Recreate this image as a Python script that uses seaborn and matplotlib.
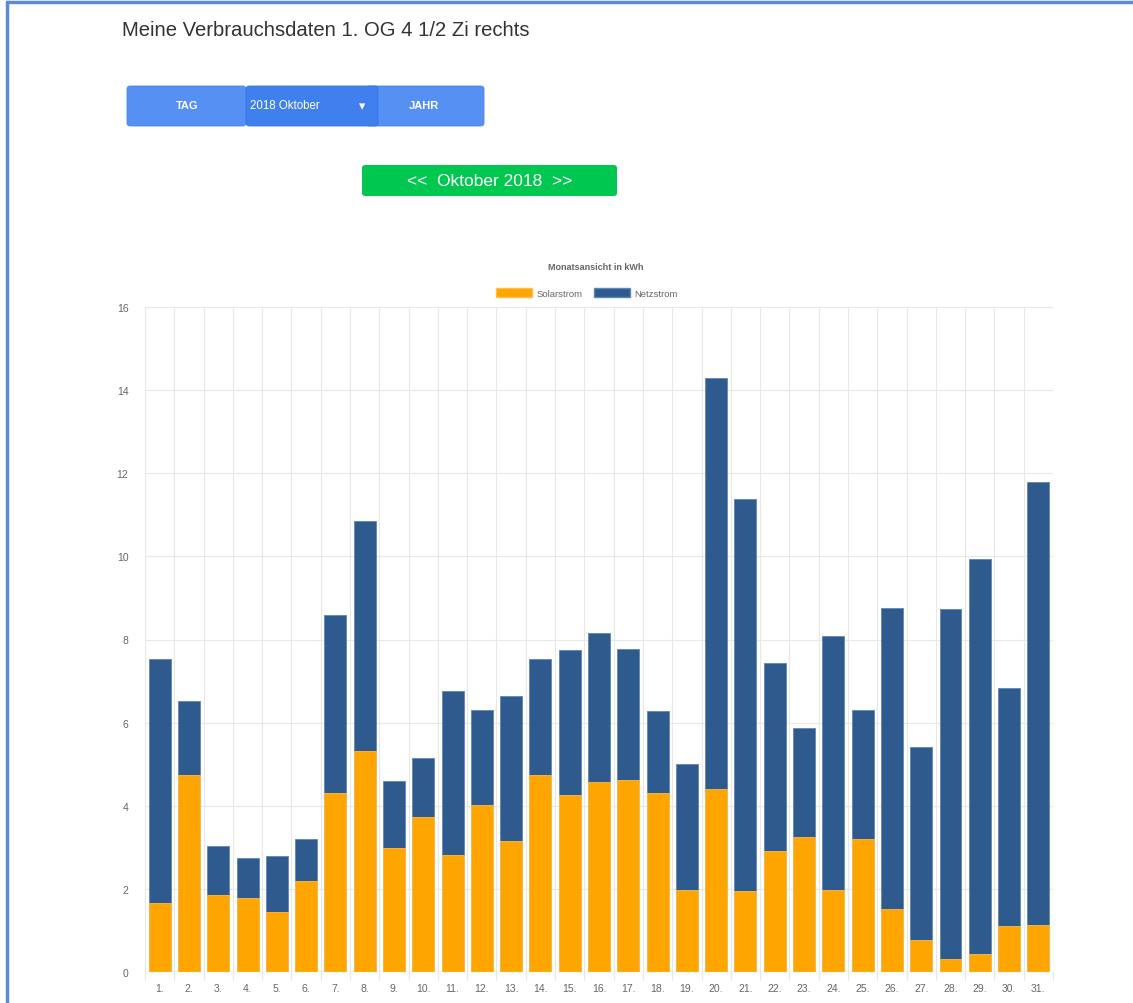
import matplotlib
matplotlib.use("Agg")
import matplotlib.pyplot as plt
from matplotlib.patches import FancyBboxPatch, Patch
from matplotlib.lines import Line2D
import seaborn as sns
import pandas as pd

# ==================== Daten ====================
days = [f"{d}." for d in range(1, 32)]
solar = [1.65, 4.75, 1.85, 1.78, 1.45, 2.18, 4.30, 5.32, 2.98, 3.73,
         2.81, 4.02, 3.15, 4.74, 4.26, 4.57, 4.63, 4.31, 1.97, 4.41,
         1.95, 2.91, 3.25, 1.97, 3.20, 1.52, 0.77, 0.31, 0.43, 1.11, 1.13]
total = [7.54, 6.53, 3.03, 2.75, 2.79, 3.20, 8.59, 10.85, 4.60, 5.15,
         6.76, 6.30, 6.64, 7.54, 7.75, 8.16, 7.77, 6.28, 5.00, 14.29,
         11.38, 7.43, 5.87, 8.08, 6.31, 8.76, 5.41, 8.73, 9.94, 6.83, 11.79]
netz = [t - s for t, s in zip(total, solar)]
y_ticks = list(range(0, 17, 2))

SOLAR_COLOR = "#FFA500"
NETZ_COLOR = "#2E5A8E"
GRID_COLOR = "#e8e8e8"
TEXT_GREY = "#666666"

df = pd.DataFrame({"day": days, "solar": solar, "netz": netz, "total": total})

sns.set_style("white")
plt.rcParams["font.family"] = ["Liberation Sans", "DejaVu Sans"]

fig = plt.figure(figsize=(11.33, 10.04), dpi=100)
W, H = 1133, 1004


def fx(px):
    return px / W


def fy(py):
    return 1 - py / H


# ==================== Seitenrahmen / Kopf ====================
fig.add_artist(Line2D([fx(7), 1], [fy(3), fy(3)], color="#5b8bd6", lw=2.5))
fig.add_artist(Line2D([fx(7), fx(7)], [fy(3), 0], color="#5b8bd6", lw=2.5))

fig.text(fx(122), fy(30), "Meine Verbrauchsdaten 1. OG 4 1/2 Zi rechts",
         fontsize=14.6, color="#333333", va="center", ha="left")


def button(x0, x1, y0, y1, color, z=1, edge="none"):
    fig.add_artist(FancyBboxPatch((fx(x0), fy(y1)), fx(x1) - fx(x0), fy(y0) - fy(y1),
                                  boxstyle="round,pad=0,rounding_size=0.003",
                                  facecolor=color, edgecolor=edge, lw=0.6, zorder=z))


button(127, 246, 87, 127, "#5590f2", edge="#4a86ea")
button(366, 484, 87, 127, "#5590f2", edge="#4a86ea")
button(246, 378, 87, 127, "#3f80ee", z=2, edge="#3575e0")
fig.text(fx(187), fy(106), "TAG", color="white", fontsize=8, fontweight="bold",
         ha="center", va="center")
fig.text(fx(250), fy(106), "2018 Oktober", color="white", fontsize=8.3,
         ha="left", va="center", zorder=3)
fig.text(fx(362), fy(107), "\u25BE", color="white", fontsize=9,
         ha="center", va="center", zorder=3)
fig.text(fx(424), fy(106), "JAHR", color="white", fontsize=8, fontweight="bold",
         ha="center", va="center", zorder=3)

button(362, 617, 166, 197, "#00c74f")
fig.text(fx(490), fy(181), "<<  Oktober 2018  >>", color="white", fontsize=12.5,
         ha="center", va="center", zorder=3)

# ==================== Diagramm ====================
ax = fig.add_axes([fx(145), fy(973), fx(1053) - fx(145), fy(308) - fy(973)])

sns.barplot(data=df, x="day", y="total", color=NETZ_COLOR, width=0.75,
            saturation=1, edgecolor="#5f86b5", linewidth=0.6, ax=ax, zorder=3)
sns.barplot(data=df, x="day", y="solar", color=SOLAR_COLOR, width=0.75,
            saturation=1, edgecolor="#ffbe4d", linewidth=0.6, ax=ax, zorder=4)

ax.set_xlim(-0.5, len(days) - 0.5)
ax.set_ylim(0, 16)
ax.set_yticks(y_ticks)
ax.set_xlabel("")
ax.set_ylabel("")

for i in range(len(days) + 1):
    ax.axvline(i - 0.5, color=GRID_COLOR, lw=0.8, zorder=0)
for v in y_ticks:
    ax.axhline(v, color=GRID_COLOR, lw=0.8, zorder=0)
ax.axhline(0, color="#d0d0d0", lw=0.9, zorder=5)

ax.tick_params(axis="x", length=0, labelsize=7.5, labelcolor=TEXT_GREY, pad=8)
ax.tick_params(axis="y", length=8, color=GRID_COLOR, labelsize=7.5,
               labelcolor=TEXT_GREY, pad=4)
# Tickstriche unter der x-Achse an den Kategoriegrenzen
for i in range(len(days) + 1):
    ax.plot([i - 0.5, i - 0.5], [0, -0.2], color=GRID_COLOR, lw=0.8,
            clip_on=False, zorder=0)

for s in ax.spines.values():
    s.set_visible(False)

fig.text(fx(596), fy(267), "Monatsansicht in kWh", fontsize=6.5,
         fontweight="bold", color=TEXT_GREY, ha="center", va="center")

handles = [Patch(facecolor=SOLAR_COLOR, edgecolor="#ffbe4d", label="Solarstrom"),
           Patch(facecolor=NETZ_COLOR, edgecolor="#5f86b5", label="Netzstrom")]
fig.legend(handles=handles, loc="center", bbox_to_anchor=(fx(587), fy(294)),
           ncol=2, frameon=False, fontsize=6.8, labelcolor=TEXT_GREY,
           handlelength=3.8, handleheight=1.0, handletextpad=0.5,
           columnspacing=1.2)

fig.savefig("out.png", dpi=100, facecolor="white")
